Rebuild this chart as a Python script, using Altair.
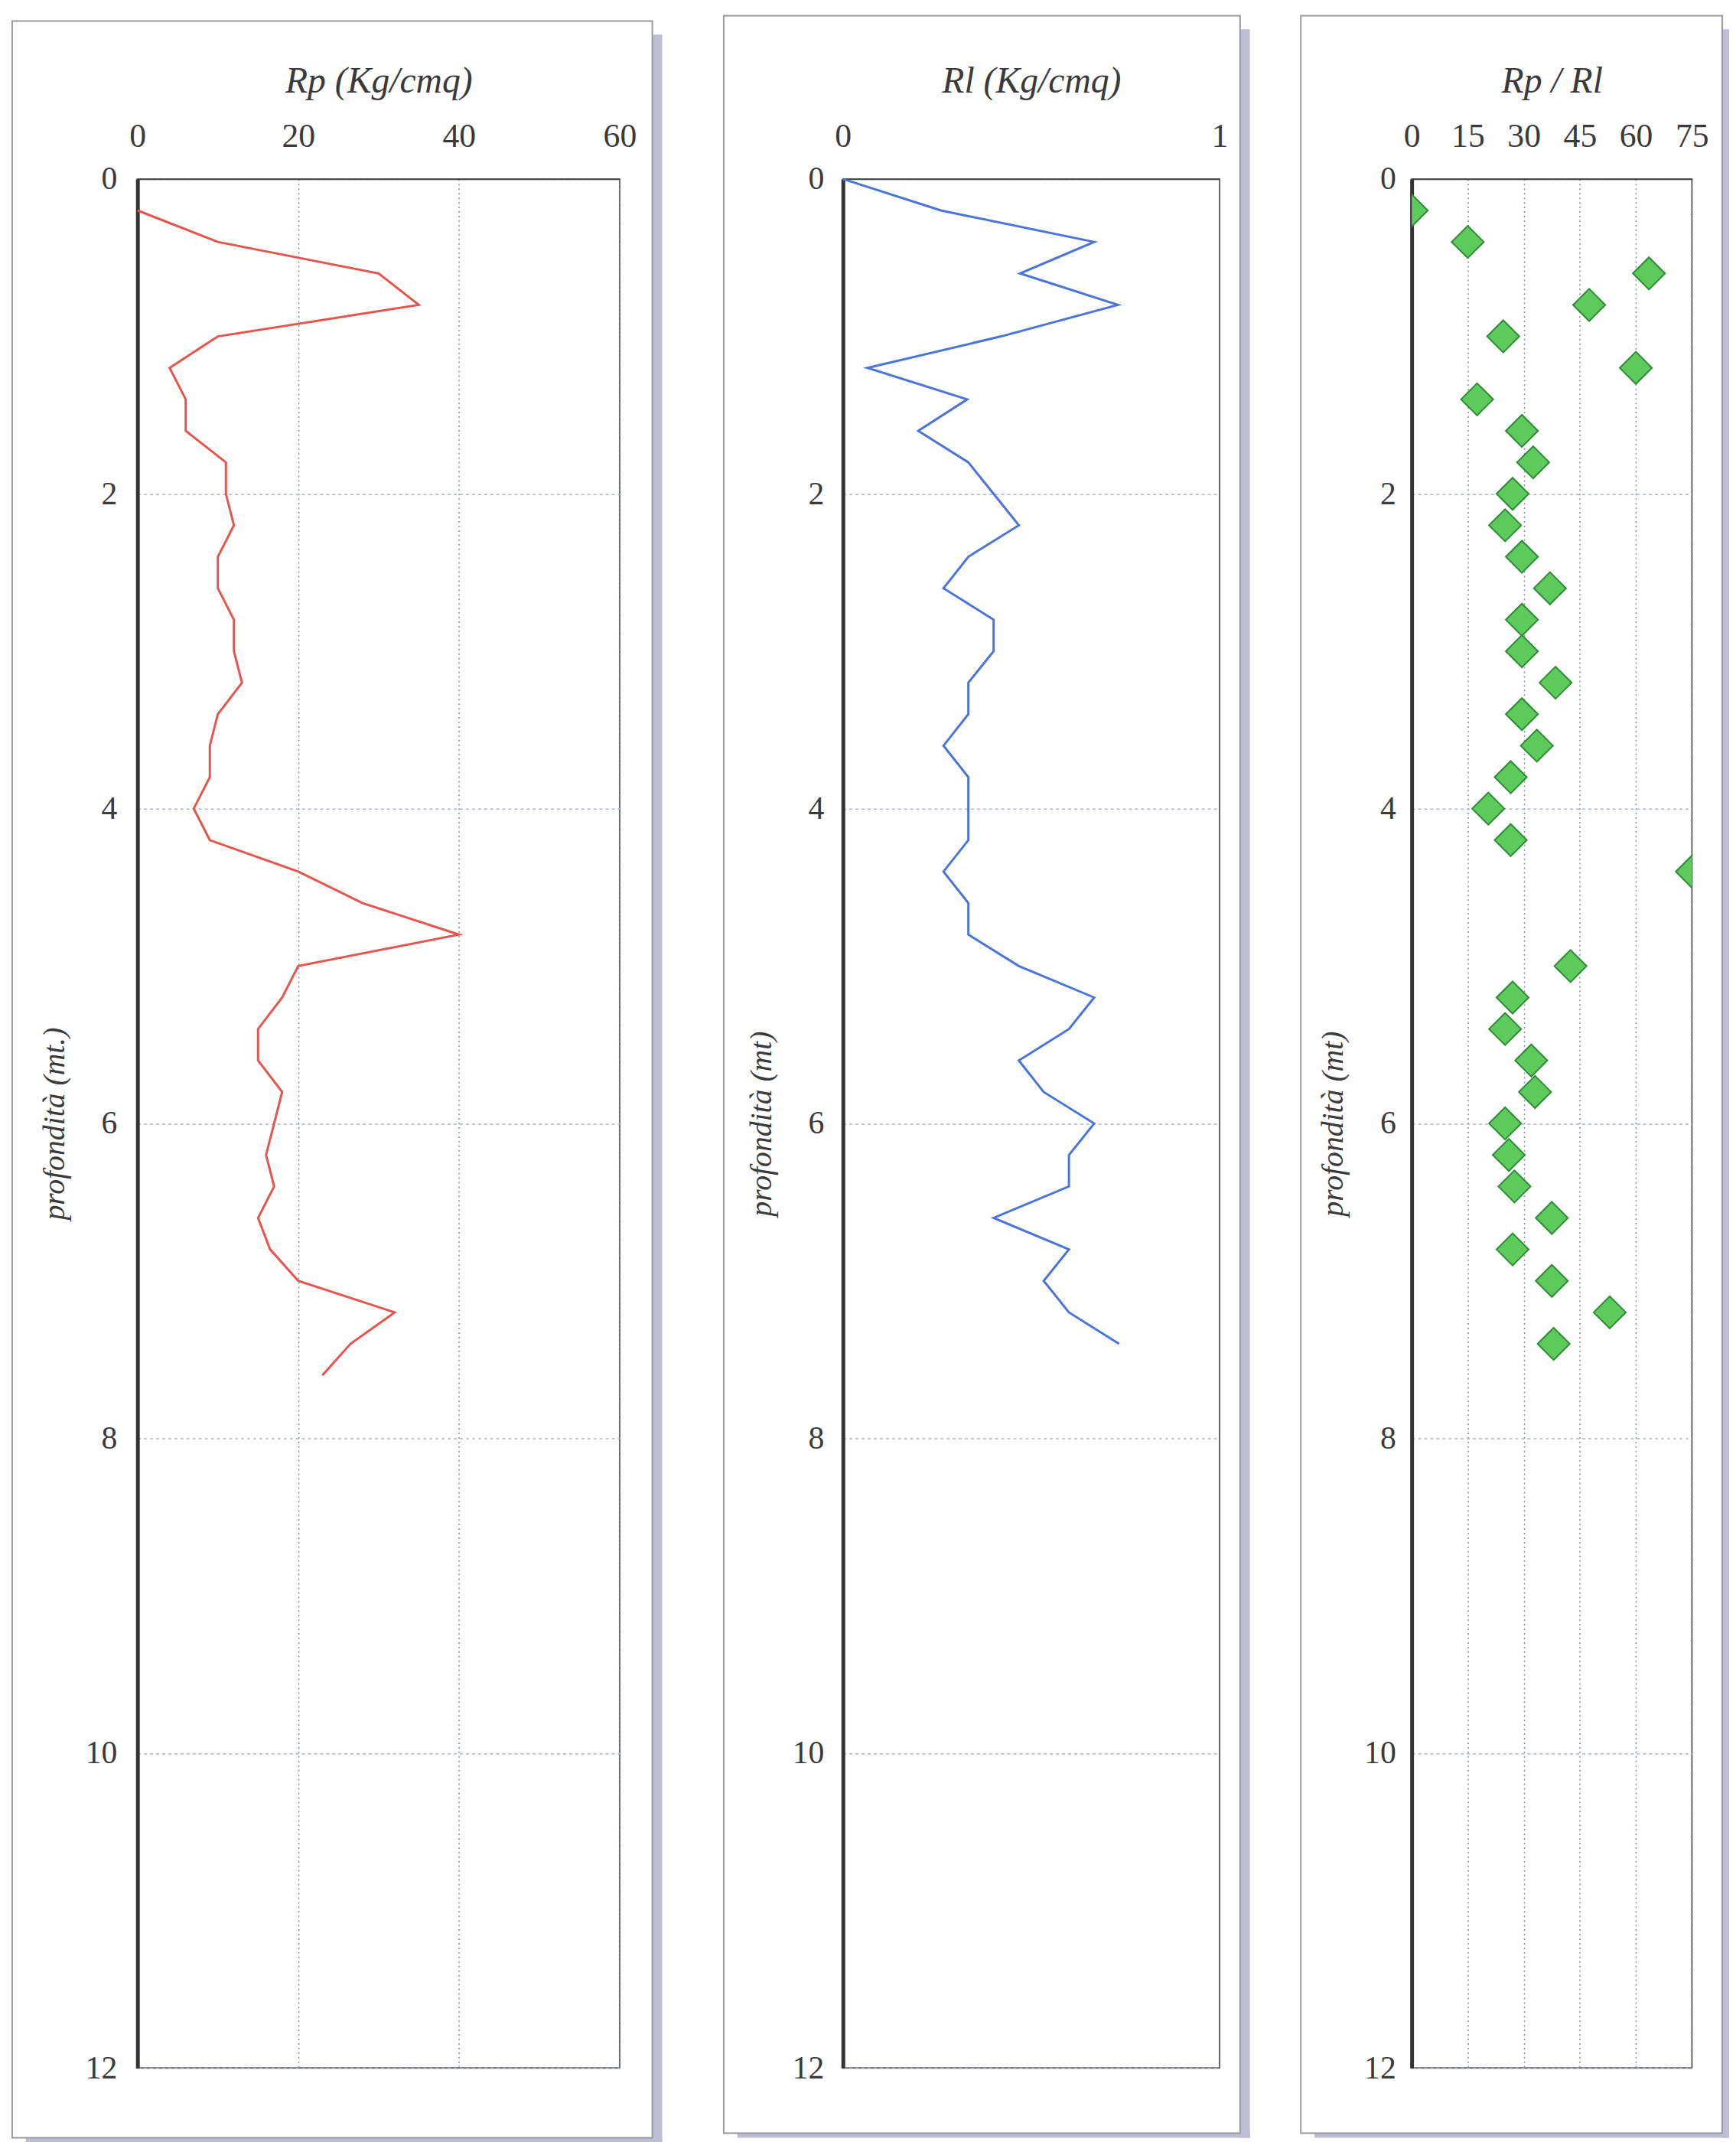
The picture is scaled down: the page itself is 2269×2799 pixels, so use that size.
import altair as alt
import pandas as pd

# ---- data ----
rp_depth = [0.2, 0.4, 0.6, 0.8, 1.0, 1.2, 1.4, 1.6, 1.8, 2.0, 2.2, 2.4, 2.6, 2.8, 3.0,
            3.2, 3.4, 3.6, 3.8, 4.0, 4.2, 4.4, 4.6, 4.8, 5.0, 5.2, 5.4, 5.6, 5.8, 6.0,
            6.2, 6.4, 6.6, 6.8, 7.0, 7.2, 7.4, 7.6]
rp_value = [0, 10, 30, 35, 10, 4, 6, 6, 11, 11, 12, 10, 10, 12, 12,
            13, 10, 9, 9, 7, 9, 20, 28, 40, 20, 18, 15, 15, 18, 17,
            16, 17, 15, 16.5, 20, 32, 26.5, 23]

rl_depth = [0.0, 0.2, 0.4, 0.6, 0.8, 1.0, 1.2, 1.4, 1.6, 1.8, 2.0, 2.2, 2.4, 2.6, 2.8,
            3.0, 3.2, 3.4, 3.6, 3.8, 4.0, 4.2, 4.4, 4.6, 4.8, 5.0, 5.2, 5.4, 5.6, 5.8,
            6.0, 6.2, 6.4, 6.6, 6.8, 7.0, 7.2, 7.4]
rl_value = [0, 0.26, 0.667, 0.47, 0.73, 0.42, 0.065, 0.33, 0.2, 0.333, 0.4, 0.467, 0.333, 0.267, 0.4,
            0.4, 0.333, 0.333, 0.267, 0.333, 0.333, 0.333, 0.267, 0.333, 0.333, 0.467, 0.667, 0.6, 0.467, 0.533,
            0.667, 0.6, 0.6, 0.4, 0.6, 0.533, 0.6, 0.733]

ratio_depth = [0.2, 0.4, 0.6, 0.8, 1.0, 1.2, 1.4, 1.6, 1.8, 2.0, 2.2, 2.4, 2.6, 2.8, 3.0,
               3.2, 3.4, 3.6, 3.8, 4.0, 4.2, 4.4, 5.0, 5.2, 5.4, 5.6, 5.8, 6.0, 6.2, 6.4,
               6.6, 6.8, 7.0, 7.2, 7.4]
ratio_value = [0, 15, 63.5, 47.5, 24.5, 60, 17.5, 29.5, 32.5, 27, 25, 29.5, 37, 29.5, 29.5,
               38.5, 29.5, 33.5, 26.5, 20.5, 26.5, 75, 42.5, 27, 25, 32, 33, 25, 26, 27.5,
               37.5, 27, 37.5, 53, 38]

depth_ticks = [0, 2, 4, 6, 8, 10, 12]

FONT = "Liberation Serif"
TXT = "#3a3a3a"
H = 2487


def frame_layers(w, h, left, top, right, bottom, shadow=13, extra_right=0):
    base = alt.Chart(pd.DataFrame({"k": [0]}))
    layers = []
    if extra_right:
        layers.append(base.mark_rect(fill="white").encode(
            x=alt.value(w + right + shadow), x2=alt.value(w + right + shadow + extra_right),
            y=alt.value(-top), y2=alt.value(h + bottom)))
    layers.append(base.mark_rect(fill="#bdbdd8").encode(
        x=alt.value(w + right), x2=alt.value(w + right + shadow),
        y=alt.value(-top + 18), y2=alt.value(h + bottom + 6)))
    layers.append(base.mark_rect(fill="#bdbdd8").encode(
        x=alt.value(-left + 18), x2=alt.value(w + right + shadow),
        y=alt.value(h + bottom), y2=alt.value(h + bottom + 6)))
    layers.append(base.mark_rect(fillOpacity=0, stroke="#9a9a9a", strokeWidth=2).encode(
        x=alt.value(-left), x2=alt.value(w + right),
        y=alt.value(-top), y2=alt.value(h + bottom)))
    return layers


def x_axis(title, values, grid):
    return alt.Axis(orient="top", title=title, values=values, grid=grid,
                    gridColor="#7d8ca4", gridDash=[2, 4], gridWidth=1.5,
                    ticks=False, domain=True, domainColor="#444", domainWidth=2,
                    labelFlush=False, labelOverlap=False, labelFontSize=44,
                    labelPadding=34, titleFontSize=48, titlePadding=26,
                    format="d")


def y_axis(title, label_pad, title_pad):
    return alt.Axis(title=title, values=depth_ticks, grid=True,
                    gridColor="#a9b4c8", gridDash=[4, 4], gridWidth=1.5,
                    ticks=False, domain=True, domainColor="#333", domainWidth=5,
                    labelFontSize=42, labelPadding=label_pad,
                    titleFontSize=40, titlePadding=title_pad, format="d")


y_scale = alt.Scale(domain=[0, 12], reverse=True, nice=False, zero=False)

# ---- panel 1 : Rp ----
W1 = 635
df1 = pd.DataFrame({"depth": rp_depth, "rp": rp_value})
line1 = alt.Chart(df1).mark_line(color="#e5554d", strokeWidth=3).encode(
    x=alt.X("rp:Q", scale=alt.Scale(domain=[0, 60], nice=False, zero=False),
            axis=x_axis("Rp (Kg/cmq)", [0, 20, 40, 60], True)),
    y=alt.Y("depth:Q", scale=y_scale, axis=y_axis("profondità (mt.)", 27, 20)),
    order=alt.Order("depth:Q"),
)
p1 = alt.layer(*frame_layers(W1, H, 165, 208, 43, 92, extra_right=14), line1).properties(
    width=W1, height=H)

# ---- panel 2 : Rl ----
W2 = 496
df2 = pd.DataFrame({"depth": rl_depth, "rl": rl_value})
line2 = alt.Chart(df2).mark_line(color="#4a74d8", strokeWidth=3).encode(
    x=alt.X("rl:Q", scale=alt.Scale(domain=[0, 1], nice=False, zero=False),
            axis=x_axis("Rl (Kg/cmq)", [0, 1], False)),
    y=alt.Y("depth:Q", scale=y_scale, axis=y_axis("profondità (mt)", 25, 20)),
    order=alt.Order("depth:Q"),
)
p2 = alt.layer(*frame_layers(W2, H, 157, 215, 27, 86), line2).properties(
    width=W2, height=H)

# ---- panel 3 : Rp / Rl ----
W3 = 369
df3 = pd.DataFrame({"depth": ratio_depth, "ratio": ratio_value})
pts3 = alt.Chart(df3).mark_point(shape="diamond", filled=True, size=1800, fill="#5ccb5c",
                                 stroke="#2e8a37", strokeWidth=2, opacity=1, clip=True).encode(
    x=alt.X("ratio:Q", scale=alt.Scale(domain=[0, 75], nice=False, zero=False),
            axis=x_axis("Rp / Rl", [0, 15, 30, 45, 60, 75], True)),
    y=alt.Y("depth:Q", scale=y_scale, axis=y_axis("profondità (mt)", 21, 20)),
)
p3 = alt.layer(*frame_layers(W3, H, 146, 215, 40, 86, shadow=9), pts3).properties(
    width=W3, height=H)

chart = alt.hconcat(p1, p2, p3, spacing=64).properties(
    padding={"left": 6, "top": 0, "right": 0, "bottom": 0},
    background="white",
).configure_view(
    stroke="#666", strokeWidth=2
).configure_axis(
    labelFont=FONT, titleFont=FONT, labelColor=TXT, titleColor=TXT,
    titleFontStyle="italic", titleFontWeight="normal",
)

chart.save("out.html", embed_options={"renderer": "svg", "actions": False})
